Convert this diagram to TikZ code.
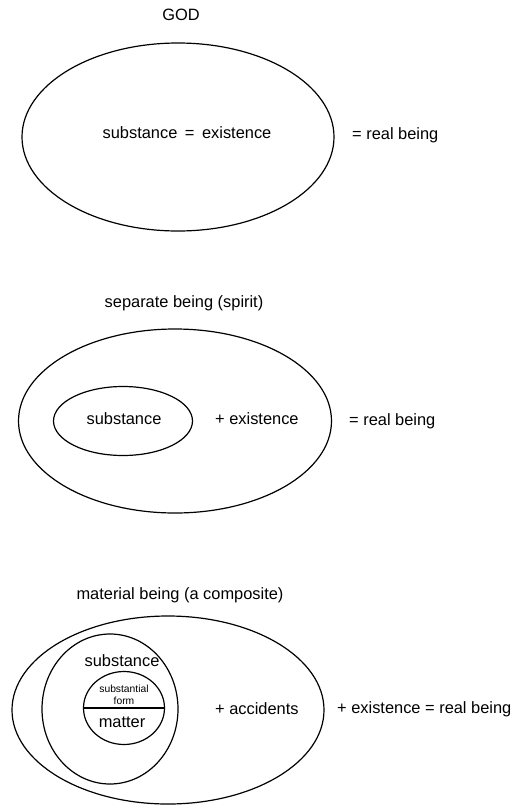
\documentclass[tikz,border=0pt]{standalone}
\usepackage{fontspec}
\setmainfont{Liberation Sans}
\usetikzlibrary{shapes.geometric}
\begin{document}
\begin{tikzpicture}[x=1pt,y=-1pt,
  oval/.style={draw,ellipse,line width=1.2pt,inner sep=0pt,outer sep=0pt},
  lbl/.style={inner sep=0pt,font=\fontsize{16.4}{19}\selectfont},
  tiny/.style={inner sep=0pt,font=\fontsize{10.3}{11}\selectfont,align=center}]
\useasboundingbox (0,0) rectangle (514,806);
% GOD
\node[lbl] (t1) at (181,15) {GOD};
\node[oval,minimum width=312pt,minimum height=188pt] (e1) at (178,137) {};
\node[lbl] (s1) at (187,133) {substance\hspace{3pt} = \hspace{3pt}existence};
\node[lbl,anchor=west] (r1) at (352,135) {= real being};
% separate being
\node[lbl] (t2) at (184,303) {separate being (spirit)};
\node[oval,minimum width=313pt,minimum height=184pt] (e2) at (175,421) {};
\node[oval,minimum width=139pt,minimum height=69pt] (e2i) at (123,421) {};
\node[lbl] (s2) at (124,419) {substance};
\node[lbl,anchor=west] (x2) at (215,419) {+ existence};
\node[lbl,anchor=west] (r2) at (349,421) {= real being};
% material being
\node[lbl] (t3) at (180,595) {material being (a composite)};
\node[oval,minimum width=312pt,minimum height=188pt] (e3) at (168,710) {};
\node[oval,minimum width=136pt,minimum height=150pt] (e3m) at (110,709) {};
\node[oval,minimum width=81pt,minimum height=73pt] (e3i) at (124,708) {};
\draw[line width=1.2pt] (e3i.west) -- (e3i.east);
\node[lbl] (s3) at (122,661) {substance};
\node[tiny] (sf) at (124,689) {substantial};
\node[tiny] (fm) at (124,701) {form};
\node[lbl] (mt) at (122,722) {matter};
\node[lbl,anchor=west] (ac) at (215,709) {+ accidents};
\node[lbl,anchor=west] (r3) at (337,709) {+ existence = real being};
\end{tikzpicture}
\end{document}
